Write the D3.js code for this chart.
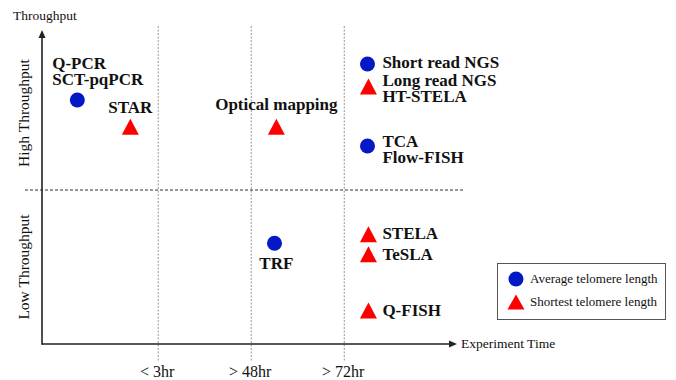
<!DOCTYPE html>
<html>
<head>
<meta charset="utf-8">
<script src="https://cdn.jsdelivr.net/npm/d3@7"></script>
<style>
  body { margin: 0; background: #fff; }
  svg { display: block; }
  text { font-family: "Liberation Serif", "Times New Roman", serif; fill: #111; }
</style>
</head>
<body>
<div id="chart"></div>
<script>
// DATA //

// methods: name, marker type (avg = average telomere length, short = shortest), position in chart units
const methodNames = ["Q-PCR", "STAR", "Optical mapping", "Short read NGS", "Long read NGS",
                     "TCA", "TRF", "STELA", "TeSLA", "Q-FISH"];
const methodKinds = ["avg", "short", "short", "avg", "short", "avg", "avg", "short", "short", "short"];
const methodTime  = [0.38, 0.95, 2.52, 3.50, 3.51, 3.50, 2.50, 3.51, 3.51, 3.51];
const methodThroughput = [7.92, 7.05, 7.05, 9.09, 8.36, 6.43, 3.27, 3.56, 2.91, 1.09];

// labels: lines of text, anchor point (chart units) of first line baseline
const labelLines = [["Q-PCR", "SCT-pqPCR"], ["STAR"], ["Optical mapping"], ["Short read NGS"],
                    ["Long read NGS", "HT-STELA"], ["TCA", "Flow-FISH"], ["TRF"], ["STELA"], ["TeSLA"], ["Q-FISH"]];
const labelAnchor = ["start", "middle", "middle", "start", "start", "start", "middle", "start", "start", "start"];
const labelTime = [0.11, 0.95, 2.52, 3.66, 3.66, 3.66, 2.52, 3.66, 3.66, 3.66];
const labelThroughput = [8.93, 7.50, 7.60, 8.96, 8.38, 6.40, 2.44, 3.41, 2.73, 0.91];

// time categories, dividers between them
const timeTicks = ["< 3hr", "> 48hr", "> 72hr"];
const timeTickAt = [1.25, 2.25, 3.25];
const throughputSplit = 5;

const kindLabels = {avg: "Average telomere length", short: "Shortest telomere length"};
const kindColor = {avg: "#0418c6", short: "#ff0000"};

// DIMENSIONS //

const W = 676, H = 380;
const svg = d3.select("#chart").append("svg").attr("width", W).attr("height", H);

const x = d3.scaleLinear().domain([0, 4.5]).range([42, 460.5]);
const y = d3.scaleLinear().domain([0, 10]).range([344, 36]);

// triangle path centred on its box
function tri(cx, cy, w, h) {
  return `M${cx},${cy - h / 2}L${cx + w / 2},${cy + h / 2}L${cx - w / 2},${cy + h / 2}Z`;
}

// GRID //

svg.selectAll(".vline").data(timeTickAt).enter().append("line")
  .attr("x1", d => x(d)).attr("x2", d => x(d))
  .attr("y1", 26).attr("y2", 361)
  .attr("stroke", "#8a8a8a").attr("stroke-width", 0.9).attr("stroke-dasharray", "2,1.5");

svg.append("line")
  .attr("x1", 25).attr("x2", 465)
  .attr("y1", y(throughputSplit)).attr("y2", y(throughputSplit))
  .attr("stroke", "#333").attr("stroke-width", 1).attr("stroke-dasharray", "3,2");

// AXES //

const x0 = x(0), y0 = y(0), xEnd = 457, yEnd = 30;
svg.append("line").attr("x1", x0).attr("x2", xEnd - 5).attr("y1", y0).attr("y2", y0)
  .attr("stroke", "#222").attr("stroke-width", 1.6);
svg.append("path").attr("d", `M${xEnd},${y0}L${xEnd - 8},${y0 - 3.5}L${xEnd - 8},${y0 + 3.5}Z`).attr("fill", "#222");
svg.append("line").attr("x1", x0).attr("x2", x0).attr("y1", y0 + 0.8).attr("y2", yEnd + 5)
  .attr("stroke", "#222").attr("stroke-width", 1.6);
svg.append("path").attr("d", `M${x0},${yEnd}L${x0 - 3.5},${yEnd + 8}L${x0 + 3.5},${yEnd + 8}Z`).attr("fill", "#222");

// tick labels
svg.selectAll(".tick").data(timeTicks).enter().append("text")
  .attr("x", (d, i) => x(timeTickAt[i]) - 1)
  .attr("y", 377)
  .attr("text-anchor", "middle")
  .style("font-size", "16px")
  .text(d => d);

svg.append("text").attr("x", 461).attr("y", 347.5).style("font-size", "13.5px").text("Experiment Time");
svg.append("text").attr("x", 13).attr("y", 20).style("font-size", "13.5px").text("Throughput");

svg.append("text")
  .attr("transform", `translate(29,${y(7.5)}) rotate(-90)`)
  .attr("text-anchor", "middle").style("font-size", "15.5px").text("High Throughput");
svg.append("text")
  .attr("transform", `translate(29,${y(2.5)}) rotate(-90)`)
  .attr("text-anchor", "middle").style("font-size", "15.5px").text("Low Throughput");

// MARKERS //

const methods = methodNames.map((n, i) => ({
  name: n, kind: methodKinds[i], t: methodTime[i], v: methodThroughput[i]
}));

svg.selectAll(".avg").data(methods.filter(d => d.kind === "avg")).enter().append("circle")
  .attr("cx", d => x(d.t)).attr("cy", d => y(d.v)).attr("r", 7.5)
  .attr("fill", kindColor.avg);

svg.selectAll(".short").data(methods.filter(d => d.kind === "short")).enter().append("path")
  .attr("d", d => tri(x(d.t), y(d.v), 17, 16))
  .attr("fill", kindColor.short);

// LABELS //

labelLines.forEach((lines, i) => {
  const t = svg.append("text")
    .attr("x", x(labelTime[i])).attr("y", y(labelThroughput[i]))
    .attr("text-anchor", labelAnchor[i])
    .style("font-size", "17px").style("font-weight", "bold");
  lines.forEach((l, j) => {
    t.append("tspan").attr("x", x(labelTime[i])).attr("dy", j === 0 ? 0 : 16.5).text(l);
  });
});

// LEGEND //

const lg = svg.append("g").attr("transform", "translate(497,263)");
lg.append("rect").attr("x", 0.5).attr("y", 0.5).attr("width", 168).attr("height", 56)
  .attr("fill", "#fff").attr("stroke", "#555").attr("stroke-width", 1);
lg.append("circle").attr("cx", 19).attr("cy", 16).attr("r", 7.5).attr("fill", kindColor.avg);
lg.append("path").attr("d", tri(19, 39, 17, 15)).attr("fill", kindColor.short);
lg.append("text").attr("x", 33).attr("y", 20).style("font-size", "13px").text(kindLabels.avg);
lg.append("text").attr("x", 33).attr("y", 43).style("font-size", "13px").text(kindLabels.short);
</script>
</body>
</html>
